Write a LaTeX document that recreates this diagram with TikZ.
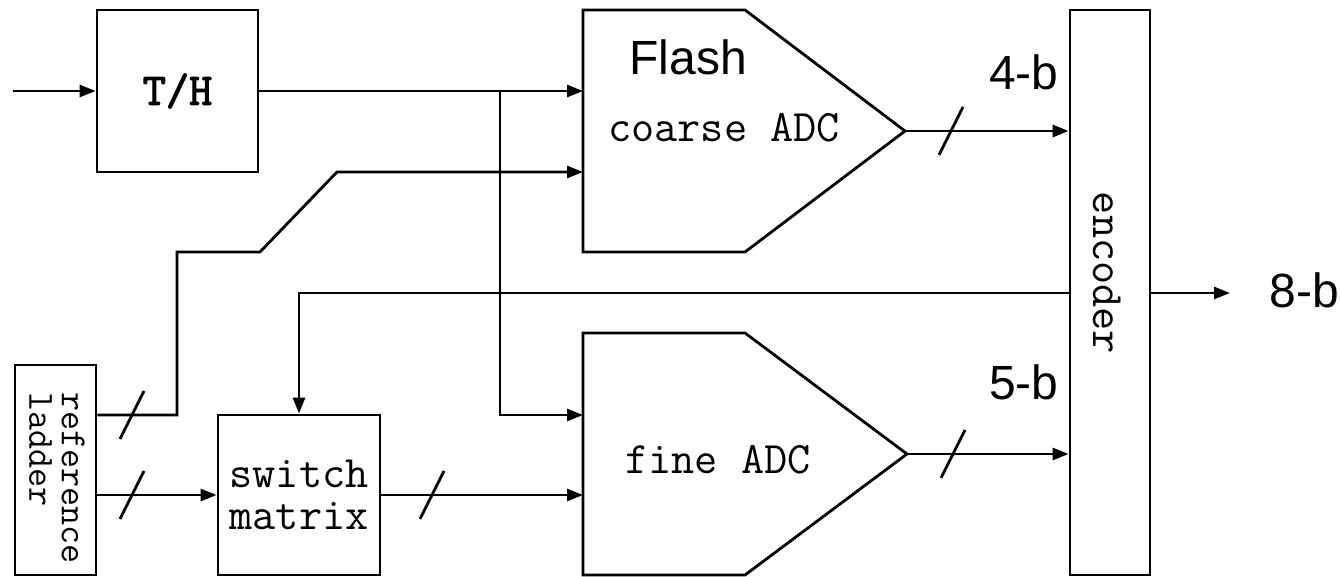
\documentclass[tikz,border=0pt]{standalone}
\usepackage{fontspec}
\setmainfont{Liberation Sans}
\newfontfamily\thfont[AutoFakeBold=2.5]{Latin Modern Mono}
\usetikzlibrary{arrows.meta,calc}
\begin{document}
\begin{tikzpicture}[x=0.5pt,y=-0.5pt,line width=1.4pt,
  arr/.style={-{Triangle[length=8pt,width=6pt]}},
  box/.style={draw,inner sep=0pt},
  hidden/.style={inner sep=0pt,outer sep=0pt},
  mono/.style={font=\ttfamily\fontsize{22.5}{21}\selectfont},
  lbl/.style={font=\fontsize{24}{28}\selectfont,inner sep=0pt},
  busmark/.style={line width=1.4pt}]
\useasboundingbox (0,0) rectangle (1340,577);

% blocks
\node[box,minimum width=80.5pt,minimum height=81pt,
      font=\thfont\bfseries\fontsize{22.5}{24}\selectfont] (th) at (177.5,91) {T/H};
\node[box,minimum width=40.5pt,minimum height=105pt] (lad) at (55.5,470) {};
\node[rotate=-90,align=left,inner sep=0pt,
      font=\ttfamily\fontsize{18.5}{16.25}\selectfont] (ladt) at (57,478) {reference\\ladder};
\node[box,minimum width=81pt,minimum height=80pt,align=center,mono] (sm) at (299,495) {switch\\matrix};
\node[box,minimum width=40pt,minimum height=282.5pt] (enc) at (1110,292.5) {};
\node[rotate=-90,mono,inner sep=0pt] (enct) at (1107,273) {encoder};

% ADC shapes
\node[hidden,minimum width=161pt,minimum height=121pt] (cadc) at (744,131) {};
\draw (cadc.north west) -- ++(162,0) -- (cadc.east) -- ($(cadc.south west)+(162,0)$) -- (cadc.south west) -- cycle;
\node[mono] (ctxt) at (724,128) {coarse ADC};
\node[lbl,anchor=base west] (flash) at (628,75) {Flash};

\node[hidden,minimum width=162pt,minimum height=121pt] (fadc) at (745,454) {};
\draw (fadc.north west) -- ++(162,0) -- (fadc.east) -- ($(fadc.south west)+(162,0)$) -- (fadc.south west) -- cycle;
\node[mono] (ftxt) at (718,460) {fine ADC};

% labels
\node[lbl,anchor=base east] (b4) at (1060,90) {4-b};
\node[lbl,anchor=base east] (b5) at (1060,400) {5-b};
\node[lbl,anchor=base west] (b8) at (1268,308) {8-b};

% coordinates
\coordinate (in) at (13,91);
\coordinate (br) at (500,91);
\coordinate (fin1) at (583,415);
\coordinate (fb) at (1070,293);
\coordinate (out) at (1230,293);
\coordinate (k1) at (177,252);
\coordinate (k2) at (260,252);
\coordinate (k3) at (337,172);

% connectors
\draw[arr] (in) -- (th.west);
\draw[arr] (th.east) -- (th.east -| cadc.west);
\draw[arr] (br) |- (fin1);
\draw[arr] (lad.east |- fin1) -| (k1) -- (k2) -- (k3) -- (k3 -| cadc.west);
\draw[arr] (lad.east |- sm.west) -- (sm.west);
\draw[arr] (sm.east) -- (sm.east -| fadc.west);
\draw[arr] (cadc.east) -- (cadc.east -| enc.west);
\draw[arr] (fadc.east) -- (fadc.east -| enc.west);
\draw[arr] (enc.west |- fb) -| (sm.north);
\draw[arr] (enc.east |- fb) -- (out);

% bus slashes
\coordinate (s1) at (132,415);
\coordinate (s2) at (132,495);
\coordinate (s3) at (432,495);
\coordinate (s4) at (951,131);
\coordinate (s5) at (953,454);
\foreach \s in {s1,s2,s3,s4,s5}
  \draw[busmark] ($(\s)+(12,-24)$) -- ($(\s)+(-12,24)$);
\end{tikzpicture}
\end{document}
